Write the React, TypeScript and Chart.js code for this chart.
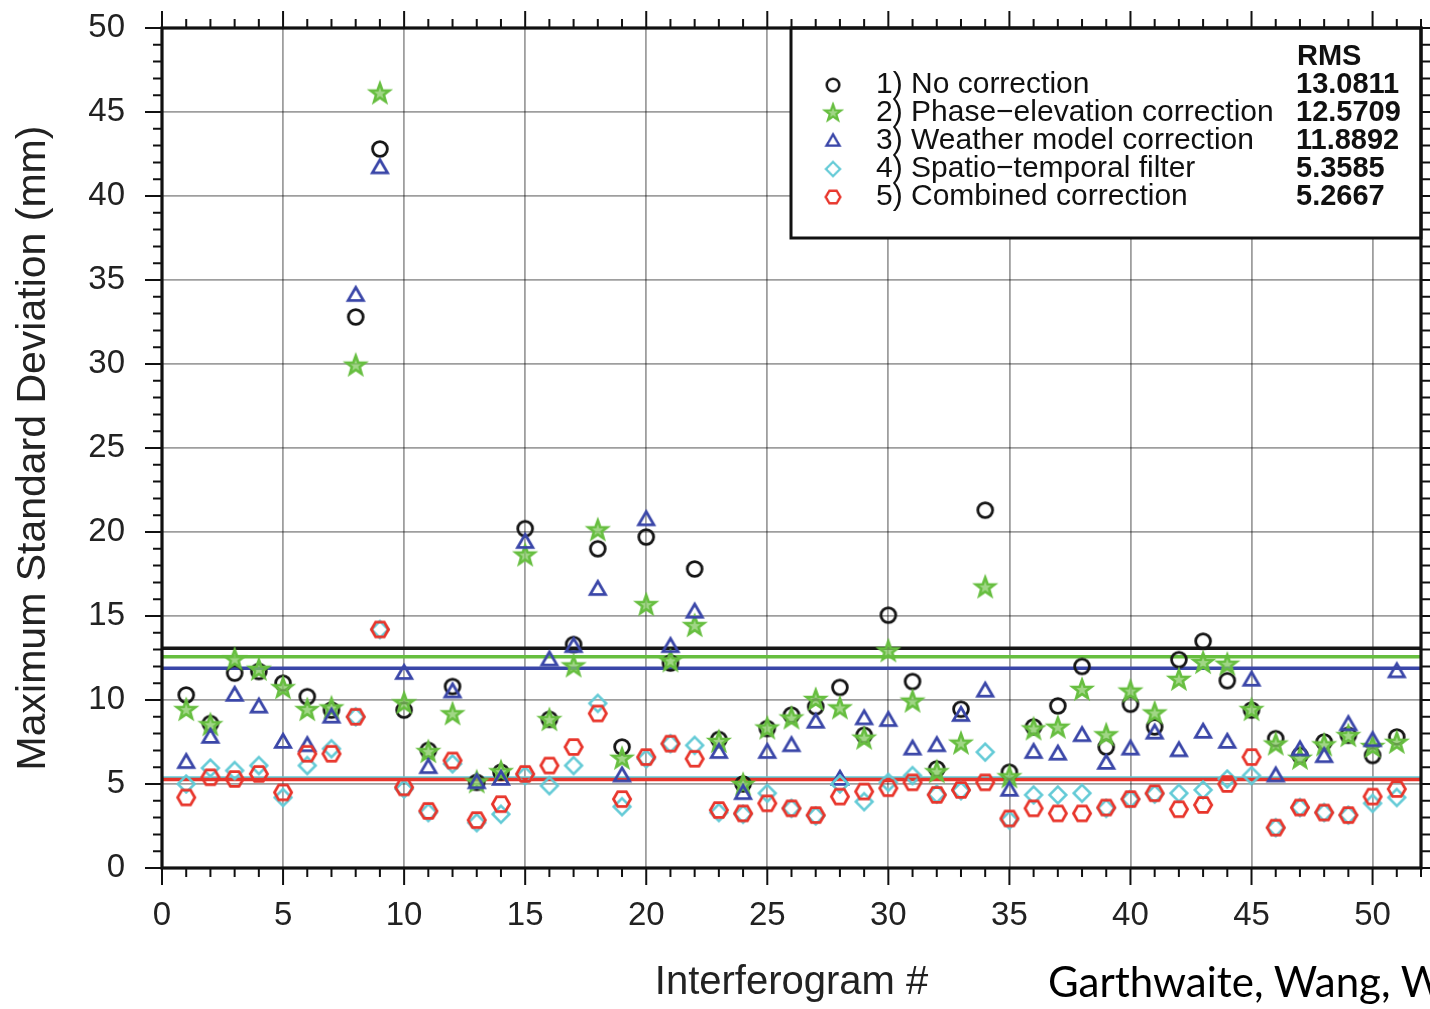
import React, { useEffect, useRef } from 'react';
import Chart from 'chart.js/auto';

// Interferogram index (x) and maximum standard deviation per correction method (mm)
const interferograms = [
  1, 2, 3, 4, 5, 6, 7, 8, 9, 10, 11, 12, 13, 14, 15, 16, 17, 18, 19, 20, 21, 22, 23, 24, 25, 26,
  27, 28, 29, 30, 31, 32, 33, 34, 35, 36, 37, 38, 39, 40, 41, 42, 43, 44, 45, 46, 47, 48, 49, 50, 51,
];

const noCorrection = [
  10.3, 8.6, 11.6, 11.7, 11.0, 10.2, 9.4, 32.8, 42.8, 9.4, 7.0, 10.8, 5.1, 5.7, 20.2, 8.85, 13.3,
  19.0, 7.2, 19.7, 12.2, 17.8, 7.65, 5.0, 8.3, 9.1, 9.6, 10.75, 7.9, 15.05, 11.1, 5.9, 9.45, 21.3,
  5.7, 8.4, 9.65, 12.0, 7.2, 9.75, 8.4, 12.4, 13.5, 11.15, 9.4, 7.7, 6.7, 7.5, 7.9, 6.7, 7.8,
];

const phaseElevation = [
  9.4, 8.5, 12.4, 11.8, 10.7, 9.4, 9.5, 29.9, 46.1, 9.8, 6.9, 9.15, 5.1, 5.7, 18.6, 8.8, 12.0,
  20.1, 6.5, 15.65, 12.3, 14.4, 7.5, 4.95, 8.3, 8.9, 10.0, 9.5, 7.7, 12.9, 9.9, 5.7, 7.4, 16.7,
  5.4, 8.25, 8.35, 10.6, 7.9, 10.5, 9.2, 11.2, 12.2, 12.1, 9.4, 7.35, 6.5, 7.3, 7.85, 7.2, 7.45,
];

const weatherModel = [
  6.3, 7.8, 10.3, 9.6, 7.5, 7.3, 9.0, 34.1, 41.7, 11.6, 6.0, 10.5, 5.1, 5.3, 19.4, 12.4, 13.2,
  16.6, 5.5, 20.75, 13.2, 15.25, 6.9, 4.45, 6.9, 7.3, 8.7, 5.3, 8.9, 8.8, 7.1, 7.3, 9.1, 10.55,
  4.65, 6.9, 6.8, 7.9, 6.25, 7.1, 8.05, 7.0, 8.1, 7.5, 11.2, 5.5, 7.05, 6.65, 8.55, 7.6, 11.7,
];

const spatioTemporal = [
  5.0, 5.95, 5.8, 6.1, 4.2, 6.1, 7.1, 9.0, 14.2, 4.7, 3.3, 6.2, 2.7, 3.2, 5.5, 4.9, 6.1, 9.8,
  3.65, 6.5, 7.4, 7.3, 3.3, 3.2, 4.45, 3.55, 3.1, 5.0, 3.95, 5.1, 5.5, 4.4, 4.6, 6.9, 2.85, 4.35,
  4.35, 4.45, 3.55, 4.1, 4.4, 4.45, 4.65, 5.3, 5.5, 2.4, 3.6, 3.3, 3.15, 3.85, 4.2,
];

const combined = [
  4.2, 5.4, 5.3, 5.6, 4.5, 6.8, 6.8, 9.0, 14.2, 4.8, 3.4, 6.4, 2.85, 3.8, 5.6, 6.1, 7.2, 9.2,
  4.1, 6.6, 7.4, 6.5, 3.45, 3.25, 3.85, 3.55, 3.15, 4.25, 4.55, 4.75, 5.1, 4.35, 4.65, 5.1, 2.95,
  3.55, 3.25, 3.25, 3.6, 4.1, 4.45, 3.5, 3.75, 5.0, 6.6, 2.4, 3.6, 3.3, 3.15, 4.25, 4.7,
];

const rmsValues = [13.0811, 12.5709, 11.8892, 5.3585, 5.2667];
const rmsLabels = ['13.0811', '12.5709', '11.8892', '5.3585', '5.2667'];

const seriesLabels = [
  '1) No correction',
  '2) Phase\u2212elevation correction',
  '3) Weather model correction',
  '4) Spatio\u2212temporal filter',
  '5) Combined correction',
];

const xRange = [0, 52];
const yRange = [0, 50];
const majorStep = 5;
const minorStep = 1;

const seriesColors = ['#161616', '#66be3f', '#3a46a8', '#62cad6', '#e8352b'];
const seriesShapes = ['circle', 'star', 'triangle', 'diamond', 'hexagon'];

const FONT = '"Liberation Sans", Arial, Helvetica, sans-serif';

function traceShape(ctx: CanvasRenderingContext2D, shape: string, cx: number, cy: number) {
  ctx.beginPath();
  if (shape === 'circle') {
    ctx.arc(cx, cy, 7.4, 0, Math.PI * 2);
  } else if (shape === 'star') {
    for (let i = 0; i < 10; i++) {
      const r = i % 2 === 0 ? 10 : 4.1;
      const a = -Math.PI / 2 + (i * Math.PI) / 5;
      const px = cx + r * Math.cos(a);
      const py = cy + r * Math.sin(a);
      if (i === 0) ctx.moveTo(px, py);
      else ctx.lineTo(px, py);
    }
    ctx.closePath();
  } else if (shape === 'triangle') {
    const r = 8.8;
    for (let i = 0; i < 3; i++) {
      const a = -Math.PI / 2 + (i * 2 * Math.PI) / 3;
      const px = cx + r * Math.cos(a);
      const py = cy + 1 + r * Math.sin(a);
      if (i === 0) ctx.moveTo(px, py);
      else ctx.lineTo(px, py);
    }
    ctx.closePath();
  } else if (shape === 'diamond') {
    const r = 8.4;
    ctx.moveTo(cx, cy - r);
    ctx.lineTo(cx + r, cy);
    ctx.lineTo(cx, cy + r);
    ctx.lineTo(cx - r, cy);
    ctx.closePath();
  } else {
    const r = 8.6;
    for (let i = 0; i < 6; i++) {
      const a = (i * Math.PI) / 3;
      const px = cx + r * Math.cos(a);
      const py = cy + r * Math.sin(a);
      if (i === 0) ctx.moveTo(px, py);
      else ctx.lineTo(px, py);
    }
    ctx.closePath();
  }
}

function makeMarker(shape: string, color: string): HTMLCanvasElement {
  const c = document.createElement('canvas');
  c.width = 30;
  c.height = 30;
  const ctx = c.getContext('2d') as CanvasRenderingContext2D;
  ctx.strokeStyle = color;
  ctx.lineJoin = 'miter';
  ctx.lineWidth = shape === 'star' ? 2.6 : shape === 'diamond' ? 2.5 : 2.8;
  traceShape(ctx, shape, 15, 15);
  if (shape === 'star') {
    // stars read as solid with a pale centre
    ctx.fillStyle = 'rgba(130, 200, 95, 0.75)';
    ctx.fill();
  }
  ctx.stroke();
  return c;
}

export default function App() {
  const canvasRef = useRef<HTMLCanvasElement | null>(null);

  useEffect(() => {
    const canvas = canvasRef.current;
    if (!canvas) return;

    const markers = seriesShapes.map((s, i) => makeMarker(s, seriesColors[i]));
    const seriesValues = [noCorrection, phaseElevation, weatherModel, spatioTemporal, combined];

    const pointSets = seriesValues.map((vals, i) => ({
      type: 'scatter' as const,
      label: seriesLabels[i],
      data: interferograms.map((x, k) => ({ x, y: vals[k] })),
      pointStyle: markers[i],
      pointRadius: 8,
      borderColor: seriesColors[i],
      backgroundColor: 'transparent',
      order: 5 - i,
    }));

    const rmsSets = rmsValues.map((v, i) => ({
      type: 'line' as const,
      label: 'RMS ' + seriesLabels[i],
      data: [
        { x: xRange[0], y: v },
        { x: xRange[1], y: v },
      ],
      borderColor: seriesColors[i],
      borderWidth: 3.4,
      pointRadius: 0,
      fill: false,
      order: 10 - i,
    }));

    const decorations = {
      id: 'decorations',
      afterDatasetsDraw(chart: any) {
        const { ctx, chartArea } = chart;
        const left = chartArea.right - 630;
        const top = chartArea.top;
        const w = 630;
        const h = 210;
        ctx.save();
        ctx.fillStyle = '#ffffff';
        ctx.fillRect(left, top, w, h);
        ctx.lineWidth = 3;
        ctx.strokeStyle = '#111';
        ctx.strokeRect(left, top, w, h);

        ctx.fillStyle = '#111';
        ctx.textBaseline = 'middle';
        ctx.textAlign = 'left';
        ctx.font = 'bold 29px ' + FONT;
        ctx.fillText('RMS', left + 506, top + 29);
        for (let i = 0; i < seriesLabels.length; i++) {
          const y = top + 57 + 28 * i;
          const m = markers[i];
          const s = 0.85;
          ctx.drawImage(m, left + 42 - (m.width * s) / 2, y - (m.height * s) / 2, m.width * s, m.height * s);
          ctx.fillStyle = '#111';
          ctx.font = '30px ' + FONT;
          ctx.fillText(seriesLabels[i], left + 85, y);
          ctx.font = 'bold 29px ' + FONT;
          ctx.fillText(rmsLabels[i], left + 505, y);
        }
        ctx.restore();
      },
      afterDraw(chart: any) {
        const { ctx, chartArea, scales } = chart;
        const { left, right, top, bottom } = chartArea;
        ctx.save();
        ctx.strokeStyle = '#111';
        ctx.lineWidth = 2;
        ctx.beginPath();
        for (let v = xRange[0]; v <= xRange[1]; v += minorStep) {
          const px = scales.x.getPixelForValue(v);
          const len = v % majorStep === 0 ? 17 : 9;
          ctx.moveTo(px, bottom);
          ctx.lineTo(px, bottom + len);
          ctx.moveTo(px, top);
          ctx.lineTo(px, top - len);
        }
        for (let v = yRange[0]; v <= yRange[1]; v += minorStep) {
          const py = scales.y.getPixelForValue(v);
          const len = v % majorStep === 0 ? 17 : 9;
          ctx.moveTo(left, py);
          ctx.lineTo(left - len, py);
          ctx.moveTo(right, py);
          ctx.lineTo(right + len, py);
        }
        ctx.stroke();
        ctx.lineWidth = 3.2;
        ctx.strokeRect(left, top, right - left, bottom - top);
        ctx.restore();
      },
    };

    const chart = new Chart(canvas, {
      type: 'scatter',
      data: { datasets: [...rmsSets, ...pointSets] as any },
      options: {
        responsive: false,
        animation: false,
        events: [],
        layout: { padding: { left: 0, top: 28, right: 8, bottom: 0 } },
        plugins: { legend: { display: false }, tooltip: { enabled: false } },
        scales: {
          x: {
            type: 'linear',
            min: xRange[0],
            max: xRange[1],
            afterFit: (scale: any) => {
              scale.height = 141;
              scale.paddingLeft = 0;
              scale.paddingRight = 0;
            },
            ticks: {
              stepSize: majorStep,
              includeBounds: false,
              padding: 28,
              color: '#222',
              font: { family: FONT, size: 33 },
              maxRotation: 0,
              autoSkip: false,
            },
            grid: { color: 'rgba(0,0,0,0.38)', lineWidth: 1.8, drawTicks: false },
            border: { display: false },
            title: {
              display: true,
              text: 'Interferogram #',
              color: '#222',
              font: { family: FONT, size: 40 },
              padding: { top: 0, bottom: 2 },
            },
          },
          y: {
            type: 'linear',
            min: yRange[0],
            max: yRange[1],
            afterFit: (scale: any) => {
              scale.width = 162;
              scale.paddingTop = 0;
              scale.paddingBottom = 0;
            },
            ticks: {
              stepSize: majorStep,
              includeBounds: false,
              padding: 37,
              color: '#222',
              font: { family: FONT, size: 33 },
            },
            grid: { color: 'rgba(0,0,0,0.38)', lineWidth: 1.8, drawTicks: false },
            border: { display: false },
            title: {
              display: true,
              text: 'Maximum Standard Deviation (mm)',
              color: '#222',
              font: { family: FONT, size: 41 },
              padding: { top: 9, bottom: 0 },
            },
          },
        },
      },
      plugins: [decorations],
    });

    return () => {
      chart.destroy();
    };
  }, []);

  return (
    <div
      style={{
        position: 'fixed',
        left: 0,
        top: 0,
        width: 1430,
        height: 1009,
        overflow: 'hidden',
        background: '#ffffff',
      }}
    >
      <canvas ref={canvasRef} width={1430} height={1009} style={{ position: 'absolute', left: 0, top: 0 }} />
      <div
        style={{
          position: 'absolute',
          left: 1048,
          top: 957,
          fontFamily: 'Lato, "Open Sans", sans-serif',
          fontSize: 42,
          lineHeight: '48px',
          whiteSpace: 'nowrap',
          color: '#000',
        }}
      >
        Garthwaite, Wang, W
      </div>
    </div>
  );
}
